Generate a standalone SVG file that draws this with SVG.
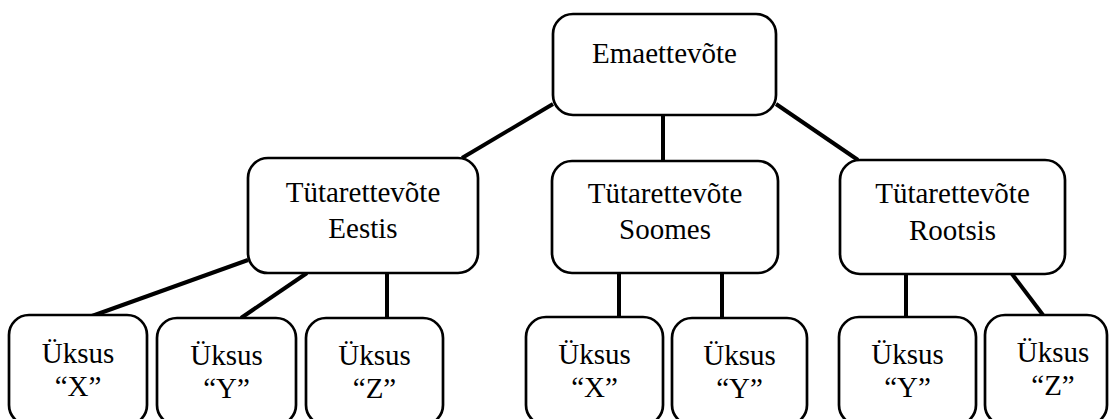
<svg xmlns="http://www.w3.org/2000/svg" width="1111" height="419" viewBox="0 0 1111 419">
  <style>
    .box { fill: #ffffff; stroke: #000000; stroke-width: 2.7; }
    .lbl { font-family: 'Liberation Serif', 'Times New Roman', Tinos, 'DejaVu Serif', serif; font-size: 29px; fill: #000000; text-anchor: middle; }
    .conn line { stroke: #000000; stroke-width: 4; stroke-linecap: butt; }
  </style>
  <rect width="1111" height="419" fill="#ffffff"/>
  <g id="connectors" class="conn">
    <line x1="553" y1="104" x2="462" y2="158"/>
    <line x1="663" y1="115" x2="663" y2="161"/>
    <line x1="776" y1="104" x2="858" y2="160"/>
    <line x1="248" y1="260" x2="92" y2="316"/>
    <line x1="307" y1="273" x2="241" y2="318"/>
    <line x1="387" y1="273" x2="387" y2="318"/>
    <line x1="619" y1="273" x2="619" y2="317"/>
    <line x1="722" y1="273" x2="722" y2="318"/>
    <line x1="906" y1="274" x2="906" y2="317"/>
    <line x1="1012" y1="274" x2="1043" y2="315"/>
  </g>
  <g id="root">
    <rect class="box" x="553" y="14" width="223" height="101" rx="20"/>
    <text class="lbl" font-family="Liberation Serif, serif" x="664.5" y="63">Emaettevõte</text>
  </g>
  <g id="eestis">
    <rect class="box" x="248" y="158" width="230" height="115" rx="20"/>
    <text class="lbl" font-family="Liberation Serif, serif" x="363" y="202">Tütarettevõte</text>
    <text class="lbl" font-family="Liberation Serif, serif" x="363" y="238">Eestis</text>
  </g>
  <g id="soomes">
    <rect class="box" x="552" y="161" width="226" height="112" rx="20"/>
    <text class="lbl" font-family="Liberation Serif, serif" x="665" y="203">Tütarettevõte</text>
    <text class="lbl" font-family="Liberation Serif, serif" x="665" y="239">Soomes</text>
  </g>
  <g id="rootsis">
    <rect class="box" x="840" y="160" width="225" height="114" rx="20"/>
    <text class="lbl" font-family="Liberation Serif, serif" x="952.5" y="203">Tütarettevõte</text>
    <text class="lbl" font-family="Liberation Serif, serif" x="952.5" y="240">Rootsis</text>
  </g>
  <g id="eestis-x">
    <rect class="box" x="9" y="315" width="138" height="110" rx="20"/>
    <text class="lbl" font-family="Liberation Serif, serif" x="78" y="363">Üksus</text>
    <text class="lbl" font-family="Liberation Serif, serif" x="78" y="396">“X”</text>
  </g>
  <g id="eestis-y">
    <rect class="box" x="157" y="318" width="139" height="107" rx="20"/>
    <text class="lbl" font-family="Liberation Serif, serif" x="226.5" y="365">Üksus</text>
    <text class="lbl" font-family="Liberation Serif, serif" x="226.5" y="398">“Y”</text>
  </g>
  <g id="eestis-z">
    <rect class="box" x="306" y="318" width="137" height="107" rx="20"/>
    <text class="lbl" font-family="Liberation Serif, serif" x="374.5" y="365">Üksus</text>
    <text class="lbl" font-family="Liberation Serif, serif" x="374.5" y="398">“Z”</text>
  </g>
  <g id="soomes-x">
    <rect class="box" x="526" y="317" width="137" height="108" rx="20"/>
    <text class="lbl" font-family="Liberation Serif, serif" x="594.5" y="364">Üksus</text>
    <text class="lbl" font-family="Liberation Serif, serif" x="594.5" y="397">“X”</text>
  </g>
  <g id="soomes-y">
    <rect class="box" x="672" y="318" width="135" height="107" rx="20"/>
    <text class="lbl" font-family="Liberation Serif, serif" x="739.5" y="365">Üksus</text>
    <text class="lbl" font-family="Liberation Serif, serif" x="739.5" y="398">“Y”</text>
  </g>
  <g id="rootsis-y">
    <rect class="box" x="839" y="317" width="137" height="108" rx="20"/>
    <text class="lbl" font-family="Liberation Serif, serif" x="907.5" y="364">Üksus</text>
    <text class="lbl" font-family="Liberation Serif, serif" x="907.5" y="397">“Y”</text>
  </g>
  <g id="rootsis-z">
    <rect class="box" x="985" y="315" width="122" height="110" rx="20"/>
    <text class="lbl" font-family="Liberation Serif, serif" x="1053" y="362">Üksus</text>
    <text class="lbl" font-family="Liberation Serif, serif" x="1053" y="395">“Z”</text>
  </g>
</svg>
